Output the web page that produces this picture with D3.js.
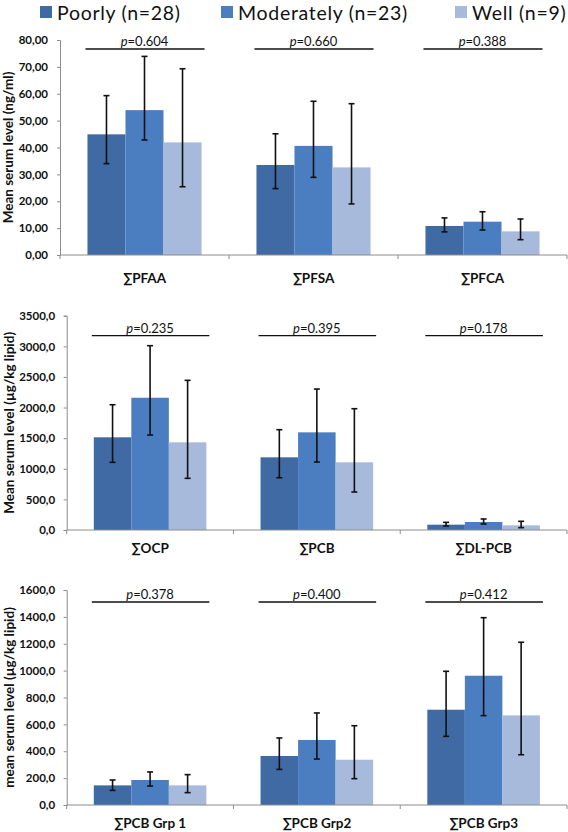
<!DOCTYPE html>
<html>
<head>
<meta charset="utf-8">
<script src="https://cdn.jsdelivr.net/npm/d3@7"></script>
<style>
  html, body { margin: 0; padding: 0; background: #fff; }
  svg { display: block; font-family: Lato, "Open Sans", sans-serif; }
</style>
</head>
<body>
<svg id="chart" width="568" height="832"></svg>
<script>
// ---- data ----
const groups = ["Poorly (n=28)", "Moderately (n=23)", "Well (n=9)"];
const colors = ["#3f6aa4", "#4a7ec0", "#a7badc"];

const cats1 = ["∑PFAA", "∑PFSA", "∑PFCA"];
const mean1 = [[44.9, 53.9, 41.9], [33.5, 40.6, 32.6], [10.8, 12.4, 8.8]];
const lo1   = [[34.0, 42.8, 25.4], [24.7, 28.9, 19.0], [8.6, 9.3, 5.7]];
const hi1   = [[59.3, 73.9, 69.3], [45.1, 57.2, 56.3], [13.8, 16.1, 13.4]];
const pval1 = ["0.604", "0.660", "0.388"];
const ticks1 = [0, 10, 20, 30, 40, 50, 60, 70, 80];

const cats2 = ["∑OCP", "∑PCB", "∑DL-PCB"];
const mean2 = [[1514, 2160, 1432], [1187, 1595, 1105], [87, 131, 76]];
const lo2   = [[1105, 1551, 844], [854, 1110, 620], [65, 98, 38]];
const hi2   = [[2046, 3010, 2444], [1638, 2302, 1981], [125, 180, 142]];
const pval2 = ["0.235", "0.395", "0.178"];
const ticks2 = [0, 500, 1000, 1500, 2000, 2500, 3000, 3500];

const cats3 = ["∑PCB Grp 1", "∑PCB Grp2", "∑PCB Grp3"];
const mean3 = [[146, 186, 146], [365, 484, 337], [709, 962, 667]];
const lo3   = [[109, 141, 92], [265, 342, 196], [511, 665, 374]];
const hi3   = [[186, 246, 226], [499, 685, 590], [995, 1394, 1211]];
const pval3 = ["0.378", "0.400", "0.412"];
const ticks3 = [0, 200, 400, 600, 800, 1000, 1200, 1400, 1600];

// ---- layout ----
const panels = [
  { cats: cats1, mean: mean1, lo: lo1, hi: hi1, p: pval1, ticks: ticks1, dec: 2,
    title: "Mean serum level (ng/ml)", x0: 60, top: 40, bottom: 255, lineOff: 9, labOff: 28 },
  { cats: cats2, mean: mean2, lo: lo2, hi: hi2, p: pval2, ticks: ticks2, dec: 1,
    title: "Mean serum level (µg/kg lipid)", x0: 66.7, top: 315.7, bottom: 530, lineOff: 20, labOff: 23 },
  { cats: cats3, mean: mean3, lo: lo3, hi: hi3, p: pval3, ticks: ticks3, dec: 1,
    title: "mean serum level (µg/kg lipid)", x0: 66.7, top: 590, bottom: 805, lineOff: 12, labOff: 23 }
];
const xRight = 567;
const axisColor = "#8c8c8c";

const svg = d3.select("#chart");

// legend
const legendX = [40, 221, 455];
const leg = svg.append("g");
groups.forEach((g, i) => {
  leg.append("rect").attr("x", legendX[i]).attr("y", 6).attr("width", 12).attr("height", 12)
    .attr("fill", colors[i]);
  leg.append("text").attr("x", legendX[i] + 17).attr("y", 20)
    .attr("font-size", 19.5).attr("letter-spacing", 0.7).attr("fill", "#111").text(g);
});

panels.forEach(P => {
  const max = P.ticks[P.ticks.length - 1];
  const y = d3.scaleLinear().domain([0, max]).range([P.bottom, P.top]);
  const x = d3.scaleBand().domain(P.cats).range([P.x0, xRight])
    .paddingInner(0.325).paddingOuter(0.1625);
  const xs = d3.scaleBand().domain(groups).range([0, x.bandwidth()]);
  const fmt = v => v.toFixed(P.dec).replace(".", ",");

  const g = svg.append("g");

  // y axis
  const yAxis = g.append("g").attr("transform", `translate(${P.x0},0)`)
    .call(d3.axisLeft(y).tickValues(P.ticks).tickSize(3).tickSizeOuter(3).tickFormat(fmt));
  yAxis.select(".domain").attr("stroke", axisColor);
  yAxis.selectAll(".tick line").attr("stroke", axisColor);
  yAxis.selectAll(".tick text").attr("x", P.dec === 2 ? -12 : -11.5)
    .attr("font-size", 11.5).attr("font-weight", "bold").attr("fill", "#111")
    .attr("font-family", "Lato, sans-serif");

  // bars
  P.cats.forEach((c, ci) => {
    groups.forEach((grp, gi) => {
      const bx = x(c) + xs(grp);
      g.append("rect").attr("x", bx).attr("y", y(P.mean[ci][gi]))
        .attr("width", xs.bandwidth()).attr("height", P.bottom - y(P.mean[ci][gi]))
        .attr("fill", colors[gi]);
    });
  });

  // error bars
  P.cats.forEach((c, ci) => {
    groups.forEach((grp, gi) => {
      const cx = x(c) + xs(grp) + xs.bandwidth() / 2;
      const y1 = y(P.hi[ci][gi]), y2 = y(P.lo[ci][gi]);
      const eb = g.append("g").attr("stroke", "#111").attr("stroke-width", 1.6);
      eb.append("line").attr("x1", cx).attr("x2", cx).attr("y1", y1).attr("y2", y2);
      eb.append("line").attr("x1", cx - 3).attr("x2", cx + 3).attr("y1", y1).attr("y2", y1);
      eb.append("line").attr("x1", cx - 3).attr("x2", cx + 3).attr("y1", y2).attr("y2", y2);
    });
  });

  // x axis
  const xa = g.append("g");
  xa.append("line").attr("x1", P.x0).attr("x2", xRight).attr("y1", P.bottom).attr("y2", P.bottom)
    .attr("stroke", axisColor);
  const bounds = P.cats.map(c => x(c) + x.bandwidth() + x.step() * 0.1625);
  [P.x0].concat(bounds).forEach(bx => {
    xa.append("line").attr("x1", bx).attr("x2", bx).attr("y1", P.bottom).attr("y2", P.bottom + 4)
      .attr("stroke", axisColor);
  });
  P.cats.forEach(c => {
    xa.append("text").attr("x", x(c) + x.bandwidth() / 2).attr("y", P.bottom + P.labOff)
      .attr("text-anchor", "middle").attr("font-size", 13.5).attr("font-weight", "bold")
      .attr("fill", "#111").text(c);
  });

  // p-value lines
  const ly = P.top + P.lineOff;
  P.cats.forEach((c, ci) => {
    g.append("line").attr("x1", x(c) - 2).attr("x2", x(c) + x.bandwidth() + 3)
      .attr("y1", ly).attr("y2", ly).attr("stroke", "#111").attr("stroke-width", 1.3);
    const t = g.append("text").attr("x", x(c) + x.bandwidth() / 2).attr("y", ly - 3)
      .attr("text-anchor", "middle").attr("font-size", 13).attr("fill", "#111");
    t.append("tspan").attr("font-style", "italic").text("p");
    t.append("tspan").text("=" + P.p[ci]);
  });

  // y title
  const midY = (P.top + P.bottom) / 2;
  g.append("text").attr("transform", `translate(${P.dec === 2 ? 13 : 14},${midY}) rotate(-90)`)
    .attr("text-anchor", "middle").attr("font-size", 13.5).attr("font-weight", "bold")
    .attr("fill", "#111").text(P.title);
});
</script>
</body>
</html>
